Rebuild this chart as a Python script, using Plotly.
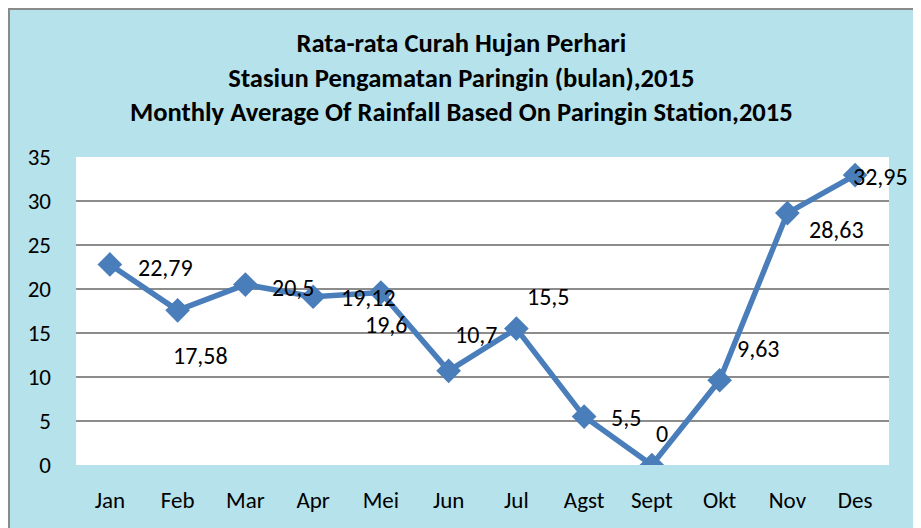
import plotly.graph_objects as go

months = ["Jan", "Feb", "Mar", "Apr", "Mei", "Jun", "Jul", "Agst", "Sept", "Okt", "Nov", "Des"]
rainfall = [22.79, 17.58, 20.5, 19.12, 19.6, 10.7, 15.5, 5.5, 0, 9.63, 28.63, 32.95]
value_labels = ["22,79", "17,58", "20,5", "19,12", "19,6", "10,7", "15,5", "5,5", "0", "9,63", "28,63", "32,95"]
y_ticks = [0, 5, 10, 15, 20, 25, 30, 35]
title_lines = [
    "Rata-rata Curah Hujan Perhari",
    "Stasiun Pengamatan Paringin (bulan),2015",
    "Monthly Average Of Rainfall Based On Paringin Station,2015",
]

# label offsets in pixels (dx, dy) relative to marker
label_offsets = [(56, -3), (23, -45), (48, -3), (55, -1), (5, -32), (27, 36),
                 (32, 32), (42, -1), (10, 32), (38, 32), (49, -16), (25, -1)]

FONT = "Carlito, Calibri, Lato, sans-serif"
LINE = "#4A7EBB"

fig = go.Figure()
fig.add_trace(go.Scatter(
    x=months, y=rainfall, mode="lines+markers",
    line=dict(color=LINE, width=5.5),
    marker=dict(symbol="diamond", size=19, color=LINE),
    hoverinfo="x+y", showlegend=False,
))

for m, v, lab, (dx, dy) in zip(months, rainfall, value_labels, label_offsets):
    fig.add_annotation(x=m, y=v, text=lab, showarrow=False, xshift=dx, yshift=dy,
                       font=dict(family=FONT, size=24, color="#000000"))

# figure is placed at (8, 8) in the page
W, H = 913, 520
L, R, T, B = 68, 32, 149, 63
pw, ph = W - L - R, H - T - B

def px(x):
    return (x - L) / pw

def py(y):
    return (H - B - y) / ph

shapes = [
    dict(type="rect", xref="paper", yref="paper", x0=px(1), x1=px(W + 10), y0=py(H + 10), y1=py(1),
         fillcolor="rgba(0,0,0,0)", line=dict(color="#8A8A8A", width=2), layer="below"),
]

fig.add_annotation(xref="paper", yref="paper", x=px(453), y=py(70), xanchor="center", yanchor="middle",
                   text="<b>" + "<br>".join(title_lines) + "</b>", showarrow=False,
                   font=dict(family=FONT, size=26.6, color="#000000"))

fig.update_layout(
    width=W, height=H,
    margin=dict(l=L, r=R, t=T, b=B),
    paper_bgcolor="#B6E2EB",
    plot_bgcolor="#FFFFFF",
    shapes=shapes,
    font=dict(family=FONT, color="#000000"),
    xaxis=dict(type="category", range=[-0.5, 11.5], showgrid=False, zeroline=False,
               showline=False, ticks="", ticklabelstandoff=19,
               tickfont=dict(family=FONT, size=23, color="#000000")),
    yaxis=dict(range=[0, 35], tickvals=y_ticks, showgrid=True, gridcolor="#8C8C8C", gridwidth=1.5,
               zeroline=False, showline=False, ticks="", ticklabelstandoff=24,
               tickfont=dict(family=FONT, size=23, color="#000000")),
)

fig.write_html("out.html")
